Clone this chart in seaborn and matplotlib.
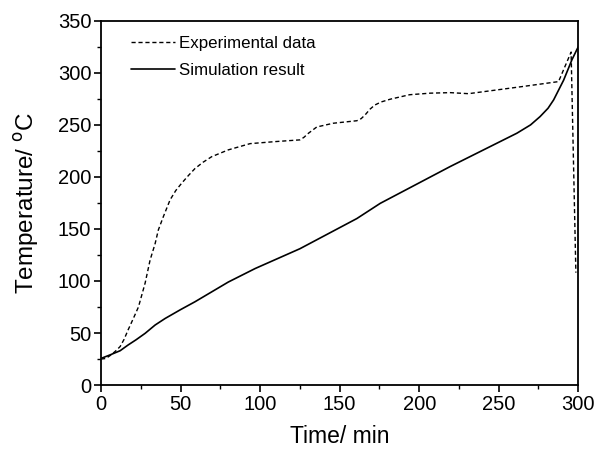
import matplotlib
matplotlib.use("Agg")
import matplotlib.pyplot as plt
import seaborn as sns
import pandas as pd
from matplotlib.ticker import MultipleLocator

exp_t = [0, 3, 6.3, 9, 12, 14.5, 17, 20, 23.5, 27.7, 30.8, 34, 36, 39.2, 43.4, 47, 50.7,
         55, 59, 64, 69.6, 80, 93.7, 110, 125, 127.5, 130.4, 135.6, 146, 160.8, 163.5,
         166, 169, 172, 176, 181.8, 194, 207, 219.5, 231, 265.6, 287.6, 295.5, 298.5]
exp_T = [25, 25.5, 29, 32.5, 37, 44, 53, 63, 75, 98, 120, 136, 149, 162, 178, 187, 194,
         201.5, 208, 214, 219.5, 226, 232, 234, 235.6, 238, 242, 248, 251.6, 254, 256,
         259.6, 265, 269, 272, 274.7, 279, 280.5, 281, 280, 287, 291.6, 320, 108]

sim_t = [0, 5.7, 12, 17, 22, 27.7, 34, 40.3, 50, 59, 80, 96.9, 125, 160.8, 175.5, 219.5,
         261.4, 270, 276, 281, 284.5, 290.8, 296, 299, 300]
sim_T = [25.6, 29, 33, 38.5, 43.5, 49.7, 57.7, 64, 72.5, 80, 99, 112, 131, 160, 174.6,
         210, 242, 250, 258, 266, 274, 293, 312.5, 322, 325]

sns.set_theme(style="white")
plt.rcParams['font.family'] = ['Liberation Sans', 'DejaVu Sans']
plt.rcParams['text.color'] = 'black'
plt.rcParams['axes.labelcolor'] = 'black'
plt.rcParams['xtick.color'] = 'black'
plt.rcParams['ytick.color'] = 'black'

exp_df = pd.DataFrame({"t": exp_t, "T": exp_T})
sim_df = pd.DataFrame({"t": sim_t, "T": sim_T})

fig = plt.figure(figsize=(5.98, 4.53), dpi=100)
ax = fig.add_axes([0.169, 0.150, 0.798, 0.804])

sns.lineplot(data=exp_df, x="t", y="T", ax=ax, color="black", lw=1.0,
             linestyle=(0, (3, 2)), label="Experimental data", sort=False)
sns.lineplot(data=sim_df, x="t", y="T", ax=ax, color="black", lw=1.2,
             label="Simulation result", sort=False)

ax.set_xlim(0, 300)
ax.set_ylim(0, 350)
ax.xaxis.set_major_locator(MultipleLocator(50))
ax.yaxis.set_major_locator(MultipleLocator(50))
ax.xaxis.set_minor_locator(MultipleLocator(25))
ax.yaxis.set_minor_locator(MultipleLocator(25))
ax.tick_params(which="major", direction="out", length=5, width=1.2, labelsize=14.5,
               bottom=True, left=True, top=False, right=False, pad=2,
               colors="black")
ax.tick_params(which="minor", direction="out", length=3, width=1.0,
               bottom=True, left=True, top=False, right=False, colors="black")
for s in ax.spines.values():
    s.set_color("black")
    s.set_linewidth(1.3)

ax.set_xlabel("Time/ min", fontsize=16.5, labelpad=8, color="black")
ax.set_ylabel("Temperature/ $^{\\mathrm{o}}$C", fontsize=17.5, labelpad=12, color="black")

leg = ax.legend(loc="upper left", bbox_to_anchor=(0.03, 1.0), frameon=False,
                fontsize=12.2, handlelength=2.6, handletextpad=0.25, labelspacing=0.7)
for txt in leg.get_texts():
    txt.set_color("black")

fig.savefig("out.png", dpi=100)
